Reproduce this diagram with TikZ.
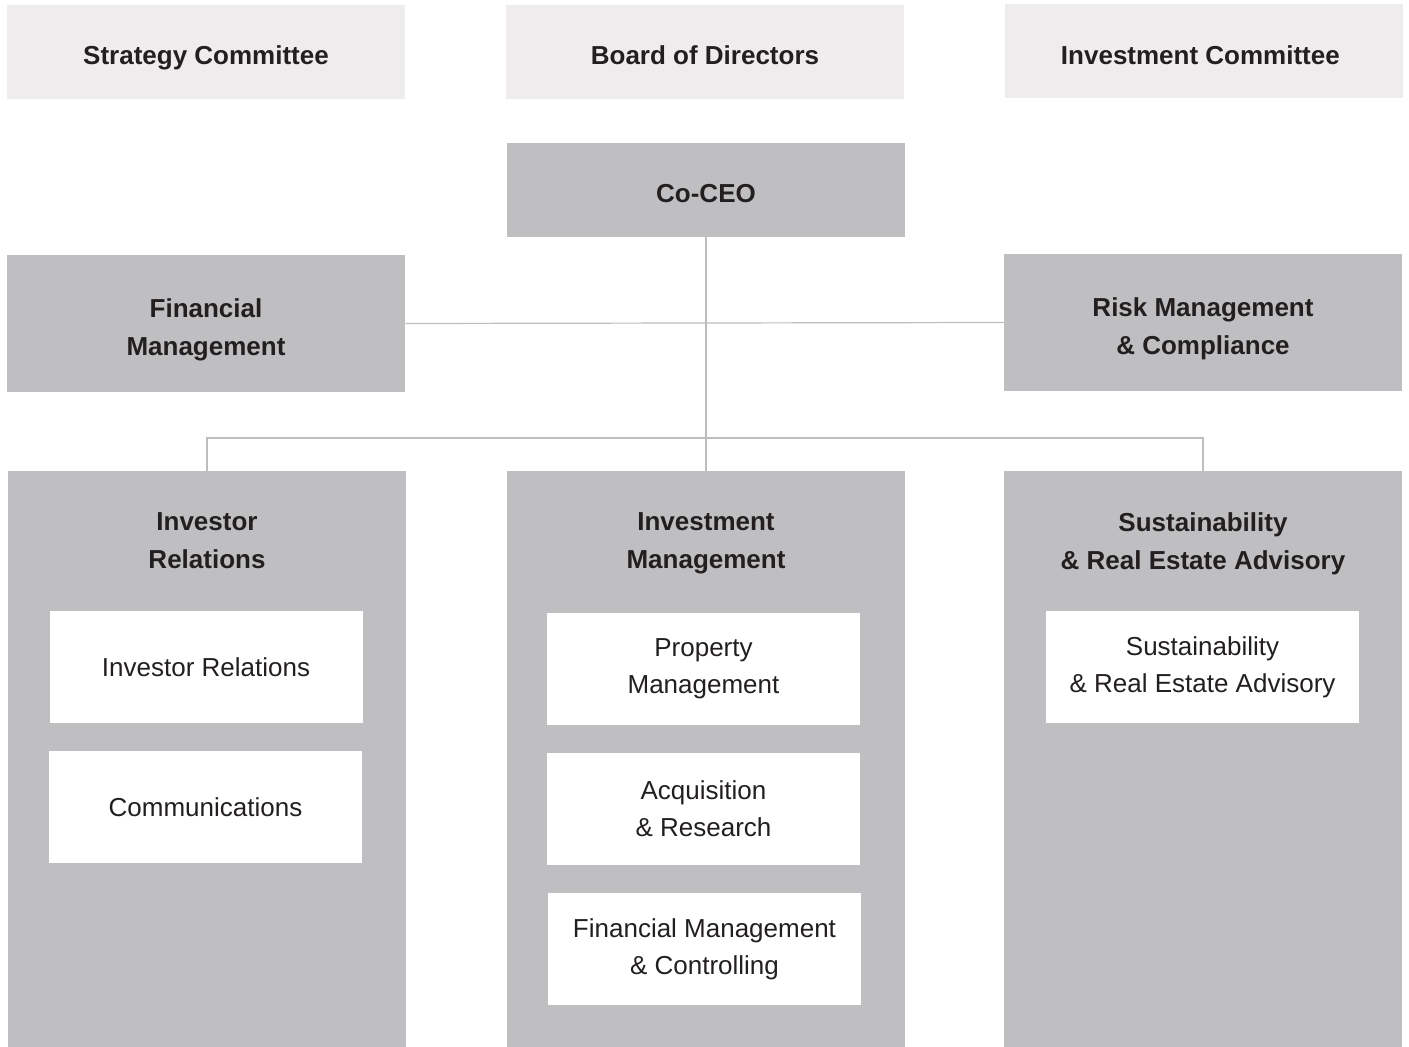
\documentclass[tikz,border=0pt]{standalone}
\usepackage{fontspec}
\setmainfont{Liberation Sans}
\definecolor{boardgrey}{HTML}{EEECED}
\definecolor{unitgrey}{HTML}{BFBFC1}
\definecolor{linkgrey}{HTML}{BDBDBD}
\definecolor{inkgrey}{HTML}{231F20}

\begin{document}
\begin{tikzpicture}[x=0.5pt,y=-0.5pt,
    boldtext/.style={text=inkgrey,align=center,font=\fontsize{13}{19}\selectfont\bfseries},
    committee/.style={boldtext,fill=boardgrey,inner sep=0pt,minimum width=199pt,minimum height=47pt,
        text height=12.8pt,text depth=0pt},
    unit/.style={fill=unitgrey,inner sep=0pt,minimum width=199pt},
    column/.style={unit,minimum height=288pt},
    team/.style={fill=white,inner sep=0pt,minimum width=156.5pt,minimum height=56pt,
        text=inkgrey,align=center,font=\fontsize{13}{18.5}\selectfont},
    link/.style={draw=linkgrey,line width=0.6pt}]
    \useasboundingbox (0,0) rectangle (1409,1047);

    % governing bodies
    \foreach \n/\x/\l in {
        strat/{(206,52)}/{Strategy Committee},
        board/{(705,52)}/{Board of Directors},
        invc/{(1204,51.5)}/{Investment Committee}
    }{
        \node[committee] (\n) at \x {\l};
    }

    % management level
    \node[unit,boldtext,minimum height=47pt,text height=12.8pt,text depth=0pt] (ceo) at (706,190) {Co-CEO};
    \node[unit,minimum height=68.5pt] (fin) at (206,323.5) {};
    \node[unit,minimum height=68.5pt] (risk) at (1203,322.5) {};
    \node[boldtext] (fint) at (206,329.5) {Financial\\Management};
    \node[boldtext] (riskt) at (1203,329) {Risk Management\\\& Compliance};

    % departments
    \node[column] (ir) at (207,759) {};
    \node[column] (im) at (706,759) {};
    \node[column] (sa) at (1203,759.5) {};
    \node[boldtext] (irt) at (207,541) {Investor\\Relations};
    \node[boldtext] (imt) at (706,543) {Investment\\Management};
    \node[boldtext] (sat) at (1203,543.5) {Sustainability\\\& Real Estate Advisory};

    % teams
    \node[team] (ir1) at (206,667) {Investor Relations};
    \node[team] (ir2) at (205.5,807) {Communications};
    \node[team] (im1) at (703.5,669) {Property\\Management};
    \node[team] (im2) at (703.5,809) {Acquisition\\\& Research};
    \node[team] (im3) at (704.5,949) {Financial Management\\\& Controlling};
    \node[team] (sa1) at (1202.5,667) {Sustainability\\\& Real Estate Advisory};

    \coordinate (bus) at (705,438);
    \draw[link] (ceo.south) -- (im.north);
    \draw[link] (fin.east) -- (risk.west);
    \draw[link] (ir.north) |- (bus) -| (sa.north);
\end{tikzpicture}
\end{document}
